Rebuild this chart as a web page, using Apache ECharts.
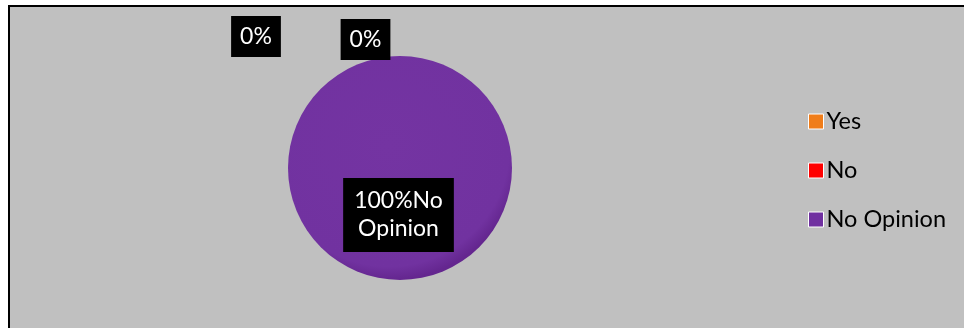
<!DOCTYPE html>
<html>
<head>
<meta charset="utf-8">
<script src="https://cdn.jsdelivr.net/npm/echarts@6/dist/echarts.min.js"></script>
<style>
html,body{margin:0;padding:0;background:#ffffff;}
#chart{width:964px;height:328px;}
</style>
</head>
<body>
<div id="chart"></div>
<script>
const categories = ['Yes', 'No', 'No Opinion'];
const values = [0, 0, 100];
const colors = ['#f07d1a', '#ff0000', '#7030a0'];
const labelSpots = [[256, 36.5], [365.5, 39.5], [398.5, 215]];

const chart = echarts.init(document.getElementById('chart'), null, {renderer: 'canvas'});
const FONT = 'Lato, "Open Sans", sans-serif';

const option = {
  animation: false,
  backgroundColor: '#ffffff',
  graphic: [{
    type: 'rect',
    z: -10,
    silent: true,
    shape: {x: 9, y: 6, width: 1000, height: 400},
    style: {fill: '#c0c0c0', stroke: '#000000', lineWidth: 2}
  }],
  legend: {
    orient: 'vertical',
    left: 803,
    top: 104,
    itemWidth: 15,
    itemHeight: 15,
    itemGap: 24,
    icon: 'rect',
    textStyle: {fontFamily: FONT, fontSize: 23.5, lineHeight: 25, color: '#000000', padding: [0, 0, 0, -2]},
    itemStyle: {borderColor: '#ffffff', borderWidth: 1},
    data: categories.map((c, i) => ({name: c, itemStyle: {color: colors[i]}}))
  },
  series: [{
    type: 'pie',
    center: [400, 168],
    radius: [0, 112],
    startAngle: 90,
    minAngle: 0,
    avoidLabelOverlap: false,
    stillShowZeroSum: true,
    labelLine: {show: false},
    label: {
      show: true,
      position: 'inside',
      fontFamily: FONT,
      fontSize: 23,
      lineHeight: 28,
      color: '#ffffff',
      backgroundColor: '#000000',
      formatter: p => p.value === 0 ? p.percent + '%' : p.percent + '%' + p.name.replace(' ', '\n')
    },
    labelLayout: p => ({
      x: labelSpots[p.dataIndex][0],
      y: labelSpots[p.dataIndex][1],
      align: 'center',
      verticalAlign: 'middle'
    }),
    data: categories.map((c, i) => ({
      name: c,
      value: values[i],
      label: i === 2 ? {padding: [9, 11]} : {padding: [7, 9, 6, 9]},
      itemStyle: {
        color: i === 2 ? {
          type: 'radial', x: 0.45, y: 0.4, r: 0.6,
          colorStops: [
            {offset: 0, color: '#7434a2'},
            {offset: 0.9, color: '#7132a0'},
            {offset: 1, color: '#64268f'}
          ]
        } : colors[i]
      }
    }))
  }]
};
chart.setOption(option);
</script>
</body>
</html>
